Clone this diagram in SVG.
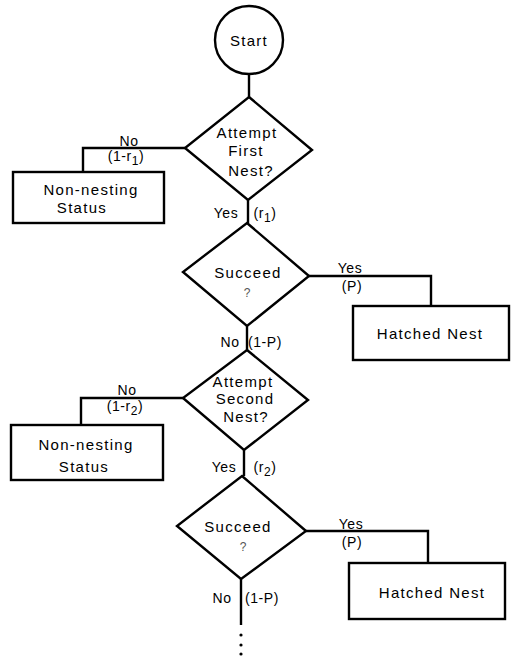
<svg xmlns="http://www.w3.org/2000/svg" width="511" height="657" viewBox="0 0 511 657">
<style>
.s{fill:#fff;stroke:#000;stroke-width:2.4;stroke-linejoin:miter}
.c{fill:none;stroke:#000;stroke-width:2.4}
.t{font-family:"Liberation Sans",Arial,sans-serif;font-size:15px;letter-spacing:1.3px;text-anchor:middle;fill:#000}
.l{font-family:"Liberation Sans",Arial,sans-serif;font-size:14px;letter-spacing:0.6px;text-anchor:middle;fill:#000}
.q{font-family:"Liberation Sans",Arial,sans-serif;font-size:12px;text-anchor:middle;fill:#555}
</style>
<rect width="511" height="657" fill="#fff"/>
<g id="connectors">
<path class="c" d="M249,74 V97"/>
<path class="c" d="M185,148 H83 V172"/>
<path class="c" d="M248,200 V223"/>
<path class="c" d="M309,276 H431 V306"/>
<path class="c" d="M247,326 V350"/>
<path class="c" d="M183,398 H81 V425"/>
<path class="c" d="M244,450 V476"/>
<path class="c" d="M306,531 H428 V563"/>
<path class="c" d="M241,579 V625"/>
<circle cx="241" cy="635" r="1.6"/>
<circle cx="241" cy="645" r="1.6"/>
<circle cx="241" cy="654" r="1.6"/>
<text class="l" x="129" y="146">No</text>
<text class="l" x="126" y="161">(1-r<tspan font-size="12" dy="4">1</tspan><tspan dy="-4">)</tspan></text>
<text class="l" x="226" y="218">Yes</text>
<text class="l" x="265" y="218">(r<tspan font-size="12" dy="4">1</tspan><tspan dy="-4">)</tspan></text>
<text class="l" x="350" y="273">Yes</text>
<text class="l" x="352" y="291">(P)</text>
<text class="l" x="230" y="347">No</text>
<text class="l" x="265" y="347">(1-P)</text>
<text class="l" x="127" y="395">No</text>
<text class="l" x="125" y="411">(1-r<tspan font-size="12" dy="4">2</tspan><tspan dy="-4">)</tspan></text>
<text class="l" x="224" y="472">Yes</text>
<text class="l" x="265" y="472">(r<tspan font-size="12" dy="4">2</tspan><tspan dy="-4">)</tspan></text>
<text class="l" x="351" y="529">Yes</text>
<text class="l" x="352" y="547">(P)</text>
<text class="l" x="222" y="603">No</text>
<text class="l" x="262" y="603">(1-P)</text>
</g>
<g id="start">
<circle class="s" cx="249" cy="40" r="34"/>
<text class="t" x="249" y="46">Start</text>
</g>
<g id="attempt1">
<polygon class="s" points="249,97 312,150 248,200 185,148"/>
<text class="t" x="247" y="138">Attempt</text>
<text class="t" x="246" y="156">First</text>
<text class="t" x="251" y="176">Nest?</text>
</g>
<g id="nonnest1">
<rect class="s" x="13" y="172" width="151" height="51"/>
<text class="t" x="91" y="195">Non-nesting</text>
<text class="t" x="82" y="213">Status</text>
</g>
<g id="succeed1">
<polygon class="s" points="247,223 309,276 247,326 183,272"/>
<text class="t" x="248" y="278">Succeed</text>
<text class="q" x="247" y="297">?</text>
</g>
<g id="hatched1">
<rect class="s" x="353" y="306" width="156" height="54"/>
<text class="t" x="430" y="339">Hatched Nest</text>
</g>
<g id="attempt2">
<polygon class="s" points="247,350 308,400 244,450 183,398"/>
<text class="t" x="243" y="387">Attempt</text>
<text class="t" x="245" y="404">Second</text>
<text class="t" x="246" y="422">Nest?</text>
</g>
<g id="nonnest2">
<rect class="s" x="11" y="425" width="152" height="55"/>
<text class="t" x="86" y="450">Non-nesting</text>
<text class="t" x="84" y="472">Status</text>
</g>
<g id="succeed2">
<polygon class="s" points="242,476 306,531 241,579 177,526"/>
<text class="t" x="238" y="532">Succeed</text>
<text class="q" x="243" y="551">?</text>
</g>
<g id="hatched2">
<rect class="s" x="349" y="563" width="156" height="56"/>
<text class="t" x="432" y="598">Hatched Nest</text>
</g>
</svg>
